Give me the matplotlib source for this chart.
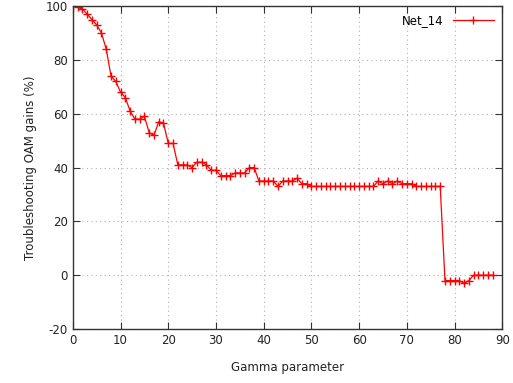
import matplotlib
matplotlib.use("Agg")
import matplotlib.pyplot as plt

gamma = list(range(0, 89))
gains = [100, 99.5, 99, 97, 95, 93, 90, 84, 74, 72,
         68, 66, 61, 58, 58, 59, 53, 52, 57, 56.5,
         49, 49, 41, 41, 41, 40, 42, 42, 41, 39,
         39, 37, 37, 37, 38, 38, 38, 40, 40, 35,
         35, 35, 35, 33, 35, 35, 35, 36, 34, 34,
         33, 33, 33, 33, 33, 33, 33, 33, 33, 33,
         33, 33, 33, 33, 35, 34, 35, 34, 35, 34,
         34, 34, 33, 33, 33, 33, 33, 33, -2, -2,
         -2, -2, -3, -2, 0, 0, 0, 0, 0]

plt.rcParams["font.family"] = "DejaVu Sans"
plt.rcParams["axes.unicode_minus"] = False
fig = plt.figure(figsize=(5.13, 3.83), dpi=100)
ax = fig.add_axes([0.142, 0.141, 0.837, 0.843])

ax.plot(gamma, gains, color="#ff0000", lw=0.9, marker="+", ms=5.5, mew=1, label="Net_14")

ax.set_xlim(0, 90)
ax.set_ylim(-20, 100)
ax.set_xticks(range(0, 91, 10))
ax.set_yticks(range(-20, 101, 20))
ax.grid(True, color="#b0b0b0", linestyle=(0, (1, 3)), lw=0.8)
ax.tick_params(direction="in", top=True, right=True, length=5, labelsize=8.5,
               colors="#333333", labelcolor="#222222")
for s in ax.spines.values():
    s.set_linewidth(1)
    s.set_color("#333333")

ax.set_xlabel("Gamma parameter", fontsize=8.5, labelpad=10, color="#222222")
ax.set_ylabel("Troubleshooting OAM gains (%)", fontsize=8.5, labelpad=6, color="#222222")

leg = ax.legend(loc="upper right", frameon=False, fontsize=8.5, markerfirst=False,
                handlelength=3.5, borderaxespad=0.3)

fig.savefig("out.png", dpi=100)
